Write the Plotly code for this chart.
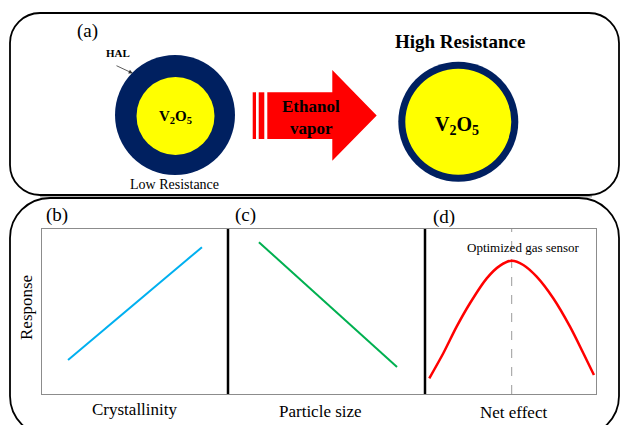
import plotly.graph_objects as go

W, H = 621, 425

# ---------------- data ----------------
# (b) Response vs Crystallinity
cryst_x = [1.4, 8.6]
cryst_y = [2.06, 8.9]
# (c) Response vs Particle size
size_x = [1.57, 8.58]
size_y = [9.2, 1.64]
# (d) Response vs Net effect
net_x = [0.25, 1.07, 1.85, 2.63, 3.61, 4.39, 5.07, 5.75, 6.53, 7.50, 8.48, 9.26, 9.88]
net_y = [0.95, 2.47, 4.08, 5.50, 7.01, 7.78, 8.08, 7.82, 7.11, 5.80, 4.08, 2.47, 1.15]

panel_labels = ["(b)", "(c)", "(d)"]
x_titles = ["Crystallinity", "Particle size", "Net effect"]
y_title = "Response"

SERIF = "Liberation Serif, Times New Roman, Times, DejaVu Serif, serif"
NAVY = "#002060"
YEL = "#FFFF00"
RED = "#FF0000"

# pixel frames of the three small plots
frames = [(42, 228), (228, 425), (425, 596)]
ytop, ybot = 229, 394

fig = go.Figure()

# overlay (pixel) axis for the diagram
fig.add_trace(go.Scatter(x=[], y=[], xaxis="x", yaxis="y", showlegend=False, hoverinfo="skip"))

fig.add_trace(go.Scatter(x=cryst_x, y=cryst_y, mode="lines", xaxis="x2", yaxis="y2",
                         line=dict(color="#00B0F0", width=2), showlegend=False))
fig.add_trace(go.Scatter(x=size_x, y=size_y, mode="lines", xaxis="x3", yaxis="y3",
                         line=dict(color="#00B050", width=2), showlegend=False))
fig.add_trace(go.Scatter(x=net_x, y=net_y, mode="lines", xaxis="x4", yaxis="y4",
                         line=dict(color=RED, width=2.5, shape="spline", smoothing=0.8),
                         showlegend=False))

layout = dict(
    width=W, height=H, margin=dict(l=0, r=0, t=0, b=0),
    paper_bgcolor="white", plot_bgcolor="rgba(0,0,0,0)",
    font=dict(family=SERIF),
    xaxis=dict(domain=[0, 1], range=[0, W], visible=False, fixedrange=True),
    yaxis=dict(domain=[0, 1], range=[H, 0], visible=False, fixedrange=True),
)
for i, (xa, xb) in enumerate(frames):
    n = i + 2
    layout[f"xaxis{n}"] = dict(domain=[xa / W, xb / W], range=[0, 10], anchor=f"y{n}",
                               showline=True, mirror=True, linecolor="#8c8c8c", linewidth=1,
                               showgrid=False, zeroline=False, showticklabels=False, ticks="")
    layout[f"yaxis{n}"] = dict(domain=[1 - ybot / H, 1 - ytop / H], range=[0, 10], anchor=f"x{n}",
                               showline=True, mirror=True, linecolor="#8c8c8c", linewidth=1,
                               showgrid=False, zeroline=False, showticklabels=False, ticks="")
fig.update_layout(**layout)


def rrect(x0, y0, x1, y1, r):
    k = 0.552 * r
    return (f"M{x0+r},{y0} L{x1-r},{y0} C{x1-r+k},{y0} {x1},{y0+r-k} {x1},{y0+r} "
            f"L{x1},{y1-r} C{x1},{y1-r+k} {x1-r+k},{y1} {x1-r},{y1} "
            f"L{x0+r},{y1} C{x0+r-k},{y1} {x0},{y1-r+k} {x0},{y1-r} "
            f"L{x0},{y0+r} C{x0},{y0+r-k} {x0+r-k},{y0} {x0+r},{y0} Z")


shapes = []
# panel boxes
shapes.append(dict(type="line", xref="x", yref="y", x0=40, x1=592, y0=196.5, y1=196.5,
                   line=dict(color="#b0b0b0", width=2)))
shapes.append(dict(type="path", xref="x", yref="y", path=rrect(10, 13, 619, 195, 30),
                   line=dict(color="black", width=1.8)))
shapes.append(dict(type="path", xref="x", yref="y", path=rrect(10, 198, 619, 436, 40),
                   line=dict(color="black", width=1.8)))

# left particle (thick HAL)
shapes.append(dict(type="circle", xref="x", yref="y", x0=115, x1=235, y0=55, y1=175,
                   fillcolor=NAVY, line=dict(width=0)))
shapes.append(dict(type="circle", xref="x", yref="y", x0=175.5 - 39, x1=175.5 + 39,
                   y0=116 - 39, y1=116 + 39, fillcolor=YEL, line=dict(width=0)))
# right particle (thin HAL)
shapes.append(dict(type="circle", xref="x", yref="y", x0=398.3, x1=518.3, y0=61.7, y1=181.7,
                   fillcolor=NAVY, line=dict(width=0)))
shapes.append(dict(type="circle", xref="x", yref="y", x0=458.3 - 53, x1=458.3 + 53,
                   y0=121.7 - 53, y1=121.7 + 53, fillcolor=YEL, line=dict(width=0)))

# red arrow with stripes
shapes.append(dict(type="rect", xref="x", yref="y", x0=252.7, x1=256, y0=92.3, y1=139,
                   fillcolor=RED, line=dict(width=0)))
shapes.append(dict(type="rect", xref="x", yref="y", x0=258.7, x1=264.3, y0=92.3, y1=139,
                   fillcolor=RED, line=dict(width=0)))
shapes.append(dict(type="path", xref="x", yref="y",
                   path="M267.3,92.3 L332.3,92.3 L332.3,70 L376.7,115.5 L332.3,160.7 L332.3,139 L267.3,139 Z",
                   fillcolor=RED, line=dict(width=0)))

# dividers (thick black) and dashed optimum line
for n in (3, 4):
    shapes.append(dict(type="line", xref=f"x{n} domain", yref=f"y{n} domain",
                       x0=0, x1=0, y0=0, y1=1, line=dict(color="black", width=2.5)))
peak_x = net_x[net_y.index(max(net_y))]
shapes.append(dict(type="line", xref="x4", yref="y4 domain", x0=peak_x, x1=peak_x, y0=0, y1=1,
                   line=dict(color="#9a9a9a", width=1, dash="dash"), layer="below"))

fig.update_layout(shapes=shapes)

ann = []


def txt(x, y, s, size, bold=False, color="black", angle=0):
    t = f"<b>{s}</b>" if bold else s
    ann.append(dict(x=x, y=y, xref="x", yref="y", text=t, showarrow=False,
                    font=dict(family=SERIF, size=size, color=color),
                    xanchor="center", yanchor="middle", textangle=angle))


txt(87, 31, "(a)", 19)
txt(118, 53, "HAL", 11, bold=True)
ann.append(dict(x=132.7, y=73.3, ax=115, ay=65, xref="x", yref="y", axref="x", ayref="y",
                text="", showarrow=True, arrowhead=2, arrowsize=1, arrowwidth=0.8,
                arrowcolor="#333333"))
txt(175.5, 117, "V<sub>2</sub>O<sub>5</sub>", 15, bold=True)
txt(174, 184, "Low Resistance", 14)
txt(311, 106, "Ethanol", 17, bold=True)
txt(311, 128, "vapor", 17, bold=True)
txt(460, 41, "High Resistance", 19, bold=True)
txt(457, 125, "V<sub>2</sub>O<sub>5</sub>", 20, bold=True)

# lower panel texts
txt(56.7, 215, panel_labels[0], 19)
txt(245.5, 215, panel_labels[1], 19)
txt(444, 216.5, panel_labels[2], 19)
txt(135, 409, x_titles[0], 17)
txt(320.5, 411, x_titles[1], 17)
txt(513, 412, x_titles[2], 17)
txt(26, 308, y_title, 17, angle=-90)
txt(523, 247, "Optimized gas sensor", 13)

fig.update_layout(annotations=ann)
fig.write_html("out.html")
